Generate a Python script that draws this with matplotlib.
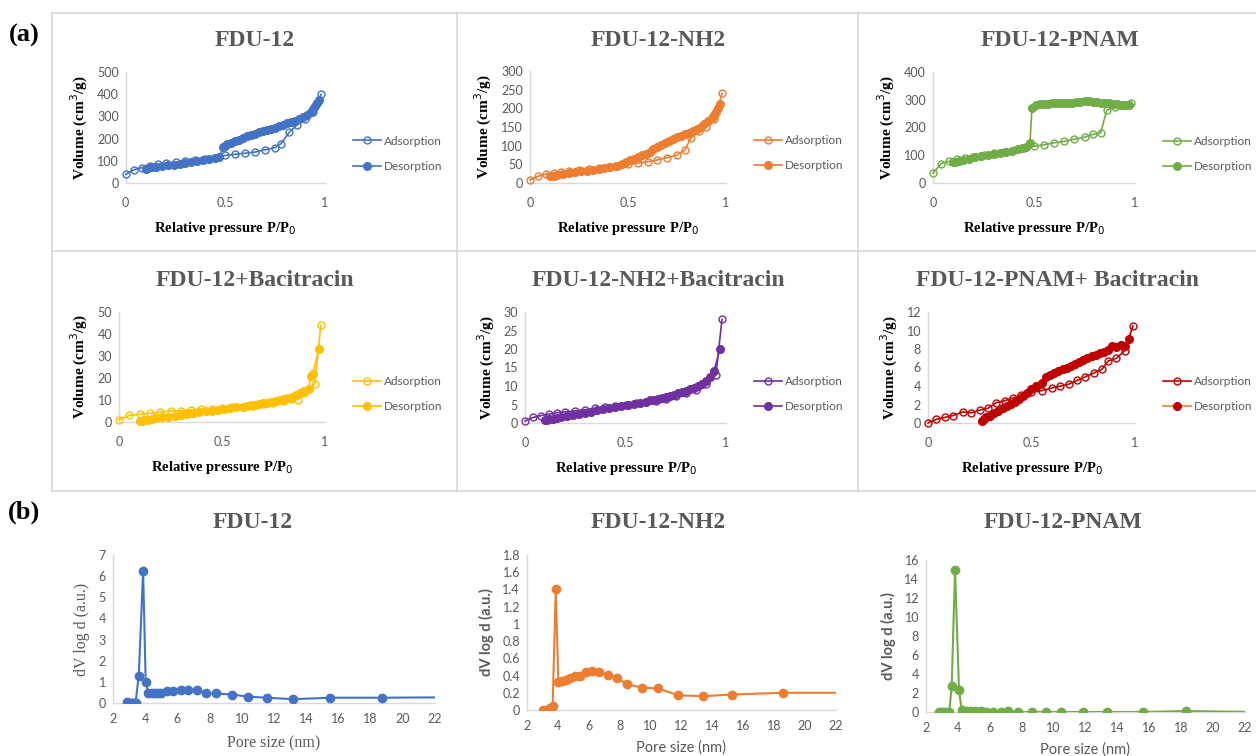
import matplotlib
matplotlib.use("Agg")
import matplotlib.pyplot as plt
from matplotlib.lines import Line2D

W, H = 1256, 756

# ---- (a) isotherms: relative pressure / volume ----
fdu_ads_p = [0, 0.04, 0.08, 0.12, 0.16, 0.2, 0.25, 0.3, 0.35, 0.4, 0.45, 0.5, 0.55, 0.6, 0.65, 0.7, 0.75, 0.78, 0.82, 0.86, 0.9, 0.94, 0.98]
fdu_ads_v = [40, 60, 70, 78, 85, 90, 95, 100, 105, 110, 115, 125, 130, 135, 140, 150, 160, 178, 228, 262, 288, 318, 398]
fdu_des_p = [0.97, 0.96, 0.95, 0.94, 0.93, 0.91, 0.89, 0.87, 0.85, 0.83, 0.81, 0.79, 0.77, 0.75, 0.73, 0.71, 0.69, 0.67, 0.65, 0.63, 0.61, 0.59, 0.57, 0.55, 0.53, 0.51, 0.5, 0.49, 0.47, 0.45, 0.42, 0.39, 0.36, 0.33, 0.3, 0.27, 0.24, 0.21, 0.18, 0.15, 0.13, 0.11, 0.1]
fdu_des_v = [372, 362, 345, 332, 320, 305, 295, 287, 280, 274, 268, 262, 256, 250, 245, 240, 234, 228, 222, 216, 210, 203, 196, 189, 182, 175, 168, 162, 118, 112, 107, 103, 99, 95, 91, 87, 84, 80, 77, 74, 71, 68, 65]

nh2_ads_p = [0, 0.04, 0.08, 0.12, 0.16, 0.2, 0.25, 0.3, 0.35, 0.4, 0.45, 0.5, 0.55, 0.6, 0.65, 0.7, 0.75, 0.79, 0.82, 0.86, 0.9, 0.94, 0.98]
nh2_ads_v = [8, 18, 24, 27, 30, 32, 35, 38, 40, 43, 46, 50, 53, 57, 62, 68, 75, 88, 120, 140, 150, 172, 240]
nh2_des_p = [0.97, 0.96, 0.95, 0.94, 0.93, 0.91, 0.89, 0.87, 0.85, 0.83, 0.81, 0.79, 0.77, 0.75, 0.73, 0.71, 0.69, 0.67, 0.65, 0.63, 0.61, 0.59, 0.57, 0.55, 0.53, 0.51, 0.49, 0.47, 0.44, 0.41, 0.38, 0.35, 0.32, 0.29, 0.26, 0.23, 0.2, 0.17, 0.14, 0.12, 0.1]
nh2_des_v = [212, 200, 190, 182, 175, 165, 158, 150, 144, 139, 134, 130, 126, 122, 117, 112, 107, 102, 96, 90, 84, 79, 74, 70, 65, 61, 56, 51, 46, 43, 40, 37, 35, 33, 31, 29, 27, 25, 22, 20, 18]

pnam_ads_p = [0, 0.04, 0.08, 0.12, 0.16, 0.2, 0.25, 0.3, 0.35, 0.4, 0.45, 0.5, 0.55, 0.6, 0.65, 0.7, 0.75, 0.79, 0.83, 0.86, 0.9, 0.94, 0.98]
pnam_ads_v = [35, 70, 78, 85, 90, 95, 102, 108, 112, 118, 125, 132, 138, 145, 150, 158, 165, 175, 181, 262, 275, 280, 290]
pnam_des_p = [0.97, 0.95, 0.93, 0.91, 0.89, 0.87, 0.85, 0.83, 0.81, 0.79, 0.77, 0.75, 0.73, 0.71, 0.69, 0.67, 0.65, 0.63, 0.61, 0.59, 0.57, 0.55, 0.53, 0.51, 0.49, 0.48, 0.46, 0.44, 0.42, 0.39, 0.36, 0.33, 0.3, 0.27, 0.24, 0.21, 0.18, 0.15, 0.13, 0.11, 0.1]
pnam_des_v = [280, 281, 282, 283, 285, 287, 288, 290, 291, 293, 295, 294, 292, 291, 290, 290, 289, 288, 288, 287, 286, 285, 283, 280, 270, 145, 130, 125, 121, 117, 113, 109, 105, 100, 96, 92, 88, 84, 80, 77, 75]

bac_ads_p = [0, 0.05, 0.1, 0.15, 0.2, 0.25, 0.3, 0.35, 0.4, 0.45, 0.5, 0.55, 0.6, 0.65, 0.7, 0.75, 0.8, 0.84, 0.87, 0.9, 0.95, 0.98]
bac_ads_v = [1, 3, 3.5, 4, 4.5, 5, 5.2, 5.5, 5.8, 6, 6.3, 6.7, 7, 7.5, 8, 8.7, 9.5, 10.5, 10.2, 13, 17.3, 44]
bac_des_p = [0.97, 0.94, 0.93, 0.92, 0.9, 0.88, 0.86, 0.84, 0.82, 0.8, 0.78, 0.76, 0.74, 0.72, 0.7, 0.68, 0.66, 0.64, 0.62, 0.6, 0.57, 0.54, 0.51, 0.48, 0.45, 0.42, 0.39, 0.36, 0.33, 0.3, 0.27, 0.24, 0.21, 0.18, 0.16, 0.14, 0.12, 0.11, 0.1]
bac_des_v = [33, 22, 21, 15, 14, 13, 12.2, 11.5, 11, 10.5, 10, 9.6, 9.2, 8.8, 8.5, 8.2, 7.9, 7.6, 7.3, 7, 6.7, 6.4, 6, 5.6, 5.2, 4.9, 4.5, 4.1, 3.7, 3.3, 2.9, 2.5, 2.1, 1.7, 1.4, 1.1, 0.8, 0.6, 0.4]

nbac_ads_p = [0, 0.04, 0.08, 0.12, 0.16, 0.2, 0.25, 0.3, 0.35, 0.4, 0.45, 0.5, 0.55, 0.6, 0.65, 0.7, 0.75, 0.8, 0.85, 0.9, 0.95, 0.98]
nbac_ads_v = [0.5, 1.5, 2, 2.4, 2.8, 3, 3.3, 3.6, 4, 4.3, 4.6, 5, 5.3, 5.6, 6, 6.5, 7.2, 8, 9, 10.5, 13, 28]
nbac_des_p = [0.97, 0.94, 0.92, 0.9, 0.88, 0.86, 0.84, 0.82, 0.8, 0.78, 0.76, 0.74, 0.72, 0.7, 0.68, 0.66, 0.64, 0.62, 0.6, 0.57, 0.54, 0.51, 0.48, 0.45, 0.42, 0.39, 0.36, 0.33, 0.3, 0.27, 0.24, 0.21, 0.18, 0.16, 0.14, 0.12, 0.11, 0.1]
nbac_des_v = [20, 14, 12.3, 11.3, 10.6, 10, 9.5, 9.1, 8.7, 8.3, 8, 7.7, 7.4, 7.1, 6.8, 6.6, 6.3, 6.1, 5.8, 5.5, 5.2, 4.9, 4.6, 4.3, 4, 3.7, 3.4, 3.1, 2.8, 2.5, 2.2, 1.9, 1.6, 1.4, 1.2, 1, 0.8, 0.7]

pbac_ads_p = [0, 0.04, 0.08, 0.12, 0.17, 0.21, 0.25, 0.29, 0.33, 0.37, 0.41, 0.45, 0.5, 0.55, 0.6, 0.64, 0.68, 0.72, 0.76, 0.8, 0.84, 0.87, 0.91, 0.95, 0.99]
pbac_ads_v = [0, 0.4, 0.6, 0.8, 1.2, 1.1, 1.4, 1.6, 2.2, 2.4, 2.7, 3, 3.3, 3.5, 3.8, 4, 4.2, 4.6, 5, 5.4, 5.8, 6.7, 7, 7.8, 10.5]
pbac_des_p = [0.97, 0.95, 0.93, 0.91, 0.89, 0.87, 0.85, 0.83, 0.81, 0.79, 0.77, 0.75, 0.73, 0.71, 0.69, 0.67, 0.65, 0.63, 0.61, 0.59, 0.57, 0.55, 0.52, 0.5, 0.48, 0.46, 0.44, 0.42, 0.4, 0.38, 0.36, 0.34, 0.32, 0.3, 0.28, 0.27, 0.26]
pbac_des_v = [9.1, 8.3, 8.4, 8.2, 8.3, 7.9, 7.7, 7.6, 7.4, 7.2, 7, 6.8, 6.6, 6.4, 6.2, 6, 5.8, 5.6, 5.4, 5.2, 5, 4.3, 4, 3.7, 3.2, 2.9, 2.6, 2.3, 2.1, 1.8, 1.6, 1.3, 1.1, 0.8, 0.6, 0.4, 0.2]

# ---- (b) pore size distributions ----
psd1_x = [2.85, 3.0, 3.1, 3.2, 3.3, 3.4, 3.6, 3.87, 4.03, 4.2, 4.4, 4.6, 4.8, 5.0, 5.36, 5.74, 6.2, 6.67, 7.2, 7.8, 8.4, 9.4, 10.4, 11.56, 13.2, 15.5, 18.7, 23]
psd1_y = [0.03, 0, 0, 0, 0, 0, 1.3, 6.25, 1.0, 0.45, 0.45, 0.45, 0.45, 0.45, 0.55, 0.55, 0.6, 0.6, 0.6, 0.45, 0.45, 0.4, 0.3, 0.25, 0.18, 0.25, 0.25, 0.27]
psd2_x = [3.06, 3.27, 3.49, 3.66, 3.86, 4.03, 4.24, 4.52, 4.78, 5.1, 5.43, 5.8, 6.19, 6.66, 7.26, 7.85, 8.45, 9.46, 10.5, 11.8, 13.4, 15.25, 18.6, 23]
psd2_y = [0, 0, 0.02, 0.05, 1.4, 0.33, 0.34, 0.35, 0.37, 0.4, 0.4, 0.44, 0.45, 0.44, 0.41, 0.37, 0.3, 0.26, 0.25, 0.17, 0.16, 0.18, 0.2, 0.2]
psd3_x = [2.84, 2.98, 3.13, 3.3, 3.46, 3.61, 3.82, 4.07, 4.24, 4.5, 4.76, 5.07, 5.43, 5.76, 6.22, 6.68, 7.15, 7.78, 8.62, 9.52, 10.46, 11.86, 13.36, 15.58, 18.27, 23]
psd3_y = [0, 0, 0, 0, 0, 2.7, 15, 2.3, 0.2, 0.15, 0.1, 0.1, 0.1, 0, 0, 0, 0.1, 0, 0, 0, 0, 0, 0, 0, 0.1, 0]

blue, orange, green = "#4472C4", "#ED7D31", "#70AD47"
yellow, purple, red = "#FFC000", "#7030A0", "#C00000"
grey_txt = "#595959"
axis_grey = "#D9D9D9"

plt.rcParams["font.family"] = ["Lato", "DejaVu Sans"]

fig = plt.figure(figsize=(W / 100, H / 100), dpi=100)


def box(x0, x1, ytop, ybot):
    return [x0 / W, 1 - ybot / H, (x1 - x0) / W, (ybot - ytop) / H]


def style_axes(ax):
    for s in ["top", "right"]:
        ax.spines[s].set_visible(False)
    for s in ["left", "bottom"]:
        ax.spines[s].set_color(axis_grey)
        ax.spines[s].set_linewidth(1.0)
    ax.tick_params(length=0, labelsize=9, colors=grey_txt, pad=5)


def fmt(v, pos):
    return "%g" % v


# panel borders for (a)
border = dict(color=axis_grey, lw=1.2, transform=fig.transFigure)
for yy in [12.7, 251, 490.7]:
    fig.add_artist(Line2D([52 / W, 1], [1 - yy / H] * 2, **border))
for xx in [52, 457, 858]:
    fig.add_artist(Line2D([xx / W] * 2, [1 - 12.7 / H, 1 - 490.7 / H], **border))

iso = [
    ("FDU-12", fdu_ads_p, fdu_ads_v, fdu_des_p, fdu_des_v, blue, blue, blue, 500, 100, (125.7, 325, 71.7, 183.3), 255),
    ("FDU-12-NH2", nh2_ads_p, nh2_ads_v, nh2_des_p, nh2_des_v, orange, orange, orange, 300, 50, (530, 726, 71, 183), 658),
    ("FDU-12-PNAM", pnam_ads_p, pnam_ads_v, pnam_des_p, pnam_des_v, green, green, green, 400, 100, (933, 1135, 72, 183), 1060),
    ("FDU-12+Bacitracin", bac_ads_p, bac_ads_v, bac_des_p, bac_des_v, yellow, yellow, yellow, 50, 10, (119, 325, 312, 422), 255),
    ("FDU-12-NH2+Bacitracin", nbac_ads_p, nbac_ads_v, nbac_des_p, nbac_des_v, purple, purple, purple, 30, 5, (525, 726, 312, 423), 658),
    ("FDU-12-PNAM+ Bacitracin", pbac_ads_p, pbac_ads_v, pbac_des_p, pbac_des_v, red, orange, red, 12, 2, (928, 1135, 312, 423), 1058),
]

for title, ap, av, dp, dv, c_ads, c_desline, c_desmk, ymax, ystep, pos, tx in iso:
    ax = fig.add_axes(box(*pos))
    style_axes(ax)
    ax.plot(ap, av, color=c_ads, lw=1.2, marker="o", ms=5, mfc="none", mec=c_ads, mew=1.0,
            label="Adsorption", clip_on=False, zorder=3)
    ax.plot(dp, dv, color=c_desline, lw=1.2, marker="o", ms=5.5, mfc=c_desmk, mec=c_desmk,
            label="Desorption", clip_on=False, zorder=4)
    ax.set_xlim(0, 1)
    ax.set_ylim(0, ymax)
    ax.set_xticks([0, 0.5, 1])
    ax.set_yticks(list(range(0, ymax + 1, ystep)))
    ax.xaxis.set_major_formatter(plt.FuncFormatter(fmt))
    ax.tick_params(axis="x", pad=10)
    ax.set_ylabel("Volume (cm$^3$/g)", family="Liberation Serif", weight="bold", fontsize=11, color="black", labelpad=5)
    ax.set_xlabel("Relative pressure P/P$_0$", family="Liberation Serif", weight="bold", fontsize=10.5, color="black", labelpad=8)
    ytop = pos[2]
    fig.text(tx / W, 1 - (ytop - 31) / H, title, ha="center", va="center",
             family="Liberation Serif", weight="bold", fontsize=17, color=grey_txt)
    ax.legend(loc="upper left", bbox_to_anchor=((pos[1] + 22) / W, 1 - (ytop + 58) / H),
              bbox_transform=fig.transFigure, frameon=False, fontsize=8.5, handlelength=2.4,
              handletextpad=0.2, labelspacing=1.2, borderpad=0, labelcolor=grey_txt)

psd = [
    ("FDU-12", psd1_x, psd1_y, blue, 7, 1, (113, 435, 555, 703), 253, "serif"),
    ("FDU-12-NH2", psd2_x, psd2_y, orange, 1.8, 0.2, (527, 836, 555, 710), 658, "sans"),
    ("FDU-12-PNAM", psd3_x, psd3_y, green, 16, 2, (926, 1245, 560, 712), 1063, "sans"),
]

for title, px, py, c, ymax, ystep, pos, tx, lab in psd:
    ax = fig.add_axes(box(*pos))
    style_axes(ax)
    ax.plot(px, py, color=c, lw=1.5, marker="o", ms=6, zorder=3)
    ax.set_xlim(2, 22)
    ax.set_ylim(0, ymax)
    ax.set_xticks(list(range(2, 23, 2)))
    n = int(round(ymax / ystep))
    ax.set_yticks([round(i * ystep, 2) for i in range(n + 1)])
    ax.yaxis.set_major_formatter(plt.FuncFormatter(fmt))
    ax.tick_params(axis="x", pad=7)
    if lab == "serif":
        ax.set_ylabel("dV log d (a.u.)", family="Liberation Serif", fontsize=11.5, color=grey_txt, labelpad=6)
        ax.set_xlabel("Pore size (nm)", family="Liberation Serif", fontsize=11.5, color=grey_txt, labelpad=8)
    else:
        ax.set_ylabel("dV log d (a.u.)", fontsize=10.5, weight="bold", color=grey_txt, labelpad=6)
        ax.set_xlabel("Pore size (nm)", fontsize=10.5, color=grey_txt, labelpad=6)
    fig.text(tx / W, 1 - 522 / H, title, ha="center", va="center",
             family="Liberation Serif", weight="bold", fontsize=17, color=grey_txt)

fig.text(24 / W, 1 - 35 / H, "(a)", ha="center", va="center", family="Liberation Serif",
         weight="bold", fontsize=19, color="black")
fig.text(24 / W, 1 - 512 / H, "(b)", ha="center", va="center", family="Liberation Serif",
         weight="bold", fontsize=19, color="black")

fig.savefig("out.png", dpi=100, facecolor="white")
